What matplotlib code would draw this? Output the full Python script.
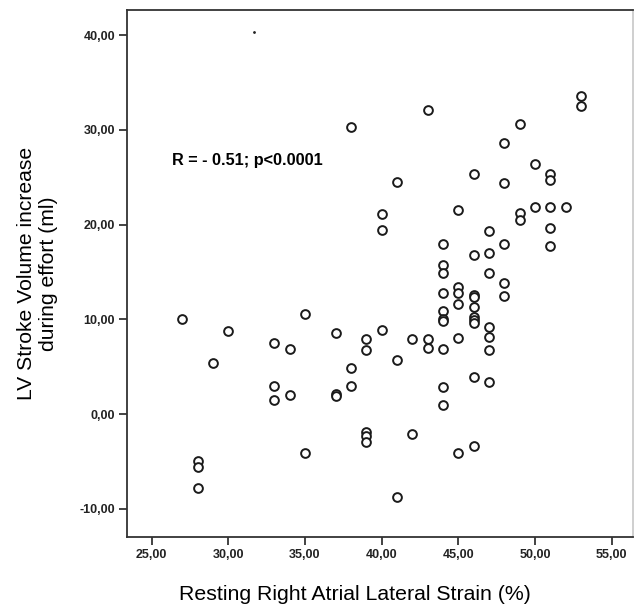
import matplotlib
matplotlib.use("Agg")
import matplotlib.pyplot as plt
from matplotlib.ticker import FuncFormatter

# resting RA lateral strain (%) -> LV stroke volume increase (ml)
strain = [27, 28, 28, 28, 29, 30,
          33, 33, 33, 34, 34, 35, 35,
          37, 37, 37, 38, 38, 38,
          39, 39, 39, 39, 39, 40, 40, 40,
          41, 41, 41, 42, 42, 43, 43, 43,
          44, 44, 44, 44, 44, 44, 44, 44, 44, 44,
          45, 45, 45, 45, 45, 45,
          46, 46, 46, 46, 46, 46, 46, 46, 46, 46,
          47, 47, 47, 47, 47, 47, 47,
          48, 48, 48, 48, 48,
          49, 49, 49, 50, 50,
          51, 51, 51, 51, 51, 52, 53, 53]
sv_increase = [10.0, -5.0, -5.6, -7.8, 5.4, 8.8,
               7.5, 2.95, 1.5, 6.9, 2.0, 10.6, -4.1,
               8.55, 2.1, 1.9, 30.3, 4.9, 3.0,
               7.9, 6.8, -1.9, -2.3, -3.0, 21.1, 19.4, 8.9,
               24.5, 5.7, -8.8, 7.9, -2.1, 32.1, 7.9, 7.0,
               18.0, 15.7, 14.9, 12.8, 10.9, 10.0, 9.8, 6.9, 2.9, 0.95,
               21.5, 13.4, 12.8, 11.6, 8.0, -4.1,
               25.4, 16.8, 12.6, 12.4, 11.3, 10.2, 9.9, 9.6, 3.9, -3.4,
               19.3, 17.0, 14.9, 9.2, 8.1, 6.8, 3.4,
               28.6, 24.4, 18.0, 13.8, 12.5,
               30.6, 21.2, 20.5, 26.4, 21.9,
               25.4, 24.7, 21.9, 19.7, 17.7, 21.9, 33.6, 32.5]
stray_dot = (31.7, 40.4)

x_ticks = [25, 30, 35, 40, 45, 50, 55]
y_ticks = [-10, 0, 10, 20, 30, 40]
annotation = "R = - 0.51; p<0.0001"

plt.rcParams["font.family"] = ["Liberation Sans", "DejaVu Sans"]

fig = plt.figure(figsize=(6.35, 6.09), dpi=100)
ax = fig.add_axes([0.2, 0.118, 0.797, 0.866])

ax.plot(strain, sv_increase, "o", ms=6.3, mfc="white", mec="#1a1a1a", mew=1.4)
ax.plot([stray_dot[0]], [stray_dot[1]], ".", ms=2, color="#222222")

ax.set_xlim(23.4, 56.4)
ax.set_ylim(-13.0, 42.7)
ax.set_xticks(x_ticks)
ax.set_yticks(y_ticks)
fmt = FuncFormatter(lambda v, _: f"{v:.2f}".replace(".", ","))
ax.xaxis.set_major_formatter(fmt)
ax.yaxis.set_major_formatter(fmt)
ax.tick_params(direction="out", length=6, width=1.2, pad=2.5, labelsize=9,
               colors="#222222")
for lab in ax.get_xticklabels() + ax.get_yticklabels():
    lab.set_fontweight("bold")
for sp in ax.spines.values():
    sp.set_linewidth(1.3)
    sp.set_color("#333333")
ax.spines["right"].set_color("#cccccc")

fig.text(172 / 635, 1 - 161 / 609, annotation, fontsize=11.7, fontweight="bold",
         va="center", ha="left")

ax.set_xlabel("Resting Right Atrial Lateral Strain (%)", fontsize=15.3)
ax.xaxis.set_label_coords(0.45, -0.091)
ax.set_ylabel("LV Stroke Volume increase\nduring effort (ml)", fontsize=15.2,
              linespacing=1.2)
ax.yaxis.set_label_coords(-0.137, 0.5)

fig.savefig("out.png", dpi=100, facecolor="white")
